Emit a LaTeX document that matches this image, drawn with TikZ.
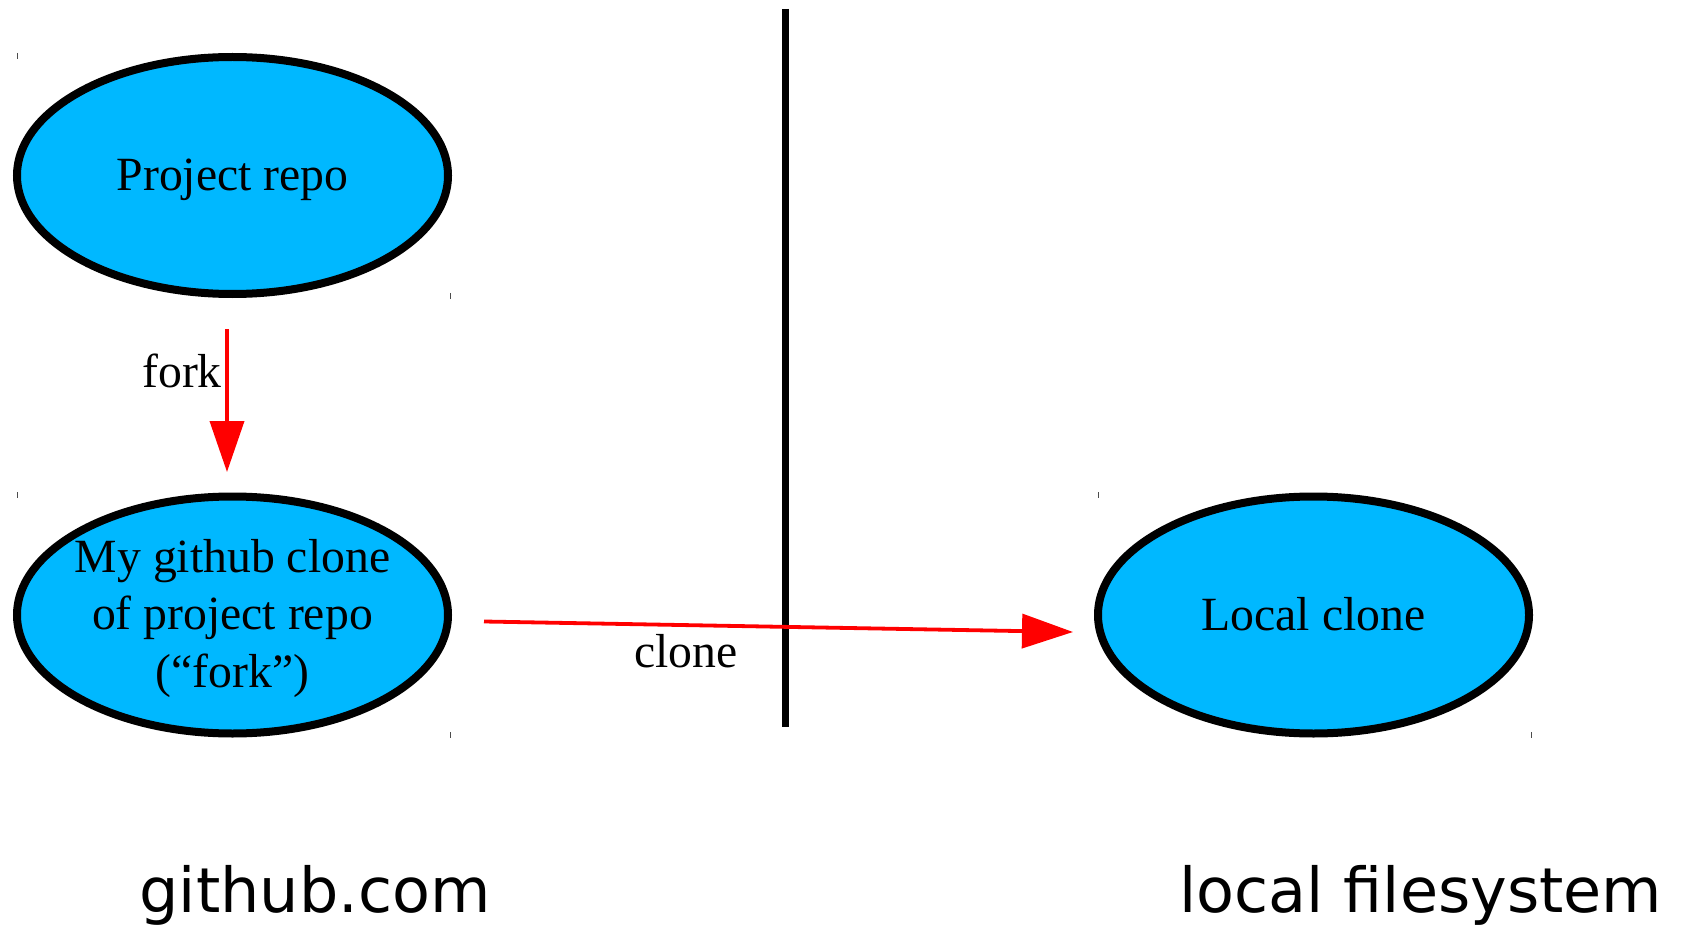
\documentclass[tikz,border=0pt]{standalone}
\usepackage{fontspec}
\setmainfont{Liberation Serif}
\newfontfamily\labelsans{DejaVu Sans}
\usetikzlibrary{shapes.geometric,arrows.meta}
\definecolor{repofill}{RGB}{0,184,255}
\definecolor{arrowred}{RGB}{255,0,0}
\tikzset{
  repo/.style={ellipse, draw=black, line width=8pt, fill=repofill,
    minimum width=431pt, minimum height=237pt, inner sep=0pt,
    align=center, font=\fontsize{47.7}{57.5}\selectfont},
  oneline/.style={text height=39pt, text depth=8pt},
  flow/.style={draw=arrowred, line width=3.8pt,
    -{Triangle[length=51pt,width=34pt]}},
  edgelabel/.style={inner sep=0pt, font=\fontsize{47.7}{57.5}\selectfont},
  sidelabel/.style={inner sep=0pt, font=\labelsans\fontsize{62}{70}\selectfont},
  bbtick/.style={draw=black!70, line width=1pt}
}
\begin{document}
\begin{tikzpicture}[x=1pt,y=-1pt]
\useasboundingbox (0,0) rectangle (1686,925);
% divider
\coordinate (dtop) at (785.5,9);
\coordinate (dbot) at (785.5,727);
\draw[line width=7.5pt] (dtop) -- (dbot);
% nodes
\node[repo, oneline] (proj) at (232.5,175.5) {Project repo};
\node[repo, inner xsep=-14pt] (fork) at (232.5,615) {\rule{0pt}{40pt}My github clone\\of project repo\\(“fork”)};
\node[repo, oneline] (local) at (1313.5,615) {Local clone};
% small bounding-box ticks
\foreach \x/\y in {17/53,450/293,17/492,450/732,1098/492,1531/732}
  \draw[bbtick] (\x,\y) -- ++(0,6);
% fork arrow
\coordinate (fs) at (227,329);
\coordinate (fe) at (227,472);
\draw[flow] (fs) -- (fe);
\node[edgelabel, anchor=base east] (forklbl) at (222,387) {fork};
% clone arrow
\coordinate (cs) at (484,621.5);
\coordinate (ce) at (1073,632);
\draw[flow] (cs) -- (ce);
\node[edgelabel, anchor=base] (clonelbl) at (686,667) {clone};
% side labels
\node[sidelabel, anchor=base] (gh) at (315,912) {github.com};
\node[sidelabel, anchor=base] (lfs) at (1421,912) {local filesystem};
\end{tikzpicture}
\end{document}
